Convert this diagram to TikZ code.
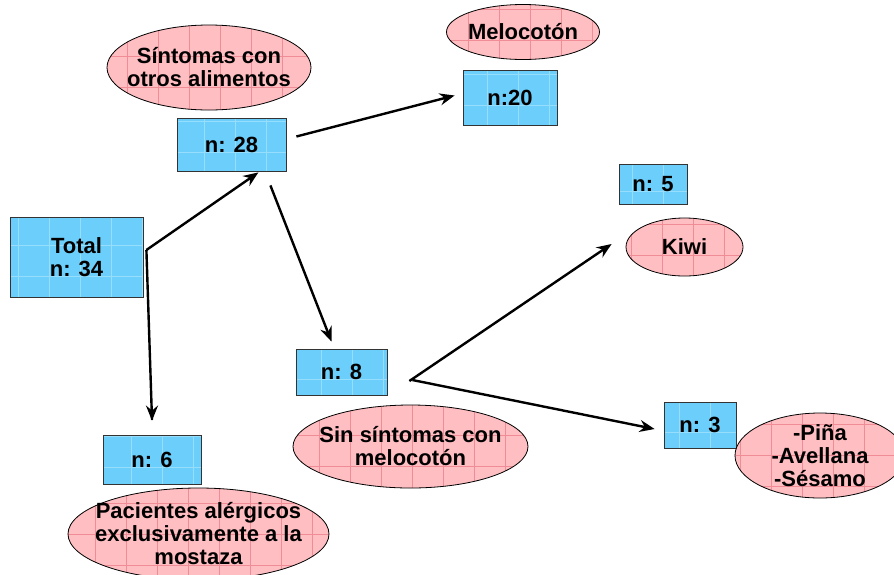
\documentclass[tikz,border=0pt]{standalone}
\usepackage{fontspec}
\setmainfont{Liberation Sans}
\usetikzlibrary{arrows.meta, positioning, calc, shapes}

\definecolor{boxblue}{RGB}{108,206,250}
\definecolor{boxgrid}{RGB}{150,222,252}
\definecolor{ellpink}{RGB}{255,190,194}
\definecolor{ellgrid}{RGB}{240,140,150}

\begin{document}
\begin{tikzpicture}[x=1pt, y=-1pt, every node/.style={font=\bfseries\fontsize{22}{23}\selectfont, align=center, inner sep=0pt}]
	\tikzstyle{b}=[draw=black!80,line width=0.8pt,fill=boxblue,
	  path picture={\draw[boxgrid,line width=0.7pt,step=31pt] (path picture bounding box.south west) grid (path picture bounding box.north east);}]
	\tikzstyle{e}=[draw,ellipse,line width=0.8pt,fill=ellpink,inner xsep=-20pt,inner ysep=-10pt,
	  path picture={\draw[ellgrid,line width=0.6pt,step=31pt] (path picture bounding box.south west) grid (path picture bounding box.north east);}]
	\tikzstyle{arr}=[line width=2.4pt,-{Stealth[length=15pt,width=12pt,inset=5pt]}]
    \useasboundingbox (0,0) rectangle (894,574);
    % boxes
    \node[b,minimum width=133pt,minimum height=80pt] (total) at (76.5,257) {Total\\n: 34};
    \node[b,minimum width=109pt,minimum height=53pt] (n28) at (231.5,144.5) {n: 28};
    \node[b,minimum width=94pt,minimum height=55pt] (n20) at (510,97.5) {n:20};
    \node[b,minimum width=68pt,minimum height=40pt] (n5) at (653,184) {n: 5};
    \node[b,minimum width=72pt,minimum height=46pt] (n3) at (700,425) {n: 3};
    \node[b,minimum width=91pt,minimum height=46pt] (n8) at (341.5,372) {n: 8};
    \node[b,minimum width=98pt,minimum height=49pt] (n6) at (152,459.5) {n: 6};
    % ellipses
    \node[e,minimum width=204pt,minimum height=85pt] (otros) at (209,67.5) {S\'intomas con\\otros alimentos};
    \node[e,minimum width=153pt,minimum height=55pt] (meloc) at (523,32) {Melocot\'on};
    \node[e,minimum width=117pt,minimum height=58pt] (kiwi) at (684.5,247) {Kiwi};
    \node[e,minimum width=235pt,minimum height=83pt] (sinsint) at (410.5,446.5) {Sin s\'intomas con\\melocot\'on};
    \node[e,minimum width=170pt,minimum height=85pt] (otras) at (820,455.5) {-Pi\~na\\-Avellana\\-S\'esamo};
    \node[e,minimum width=261pt,minimum height=92pt] (pac) at (198.5,534) {Pacientes al\'ergicos\\exclusivamente a la\\mostaza};
    % arrows
    \coordinate[right=3pt of total.east,yshift=7pt] (fork);
    \draw[line width=2.4pt,line join=miter] (fork) -- ([yshift=15pt]n6.north);
    \draw[arr] (fork) -- ([shift={(0pt,-1pt)}]n28.-45);
    \draw[arr] ([yshift=15pt]n6.north) -- ([yshift=14pt]n6.north);
    \draw[arr] ([shift={(-16pt,-14pt)}]n28.south east) -- ([shift={(-10pt,7pt)}]n8.north);
    \draw[arr] ([shift={(10pt,8pt)}]n28.east) -- ([shift={(-8pt,2pt)}]n20.west);
    \draw[arr] ([shift={(22pt,-9pt)}]n8.east) -- ([shift={(-14pt,3pt)}]kiwi.west);
    \draw[arr] ([shift={(25pt,-8pt)}]n8.east) -- ([shift={(-9pt,-4pt)}]n3.west);
\end{tikzpicture}
\end{document}
